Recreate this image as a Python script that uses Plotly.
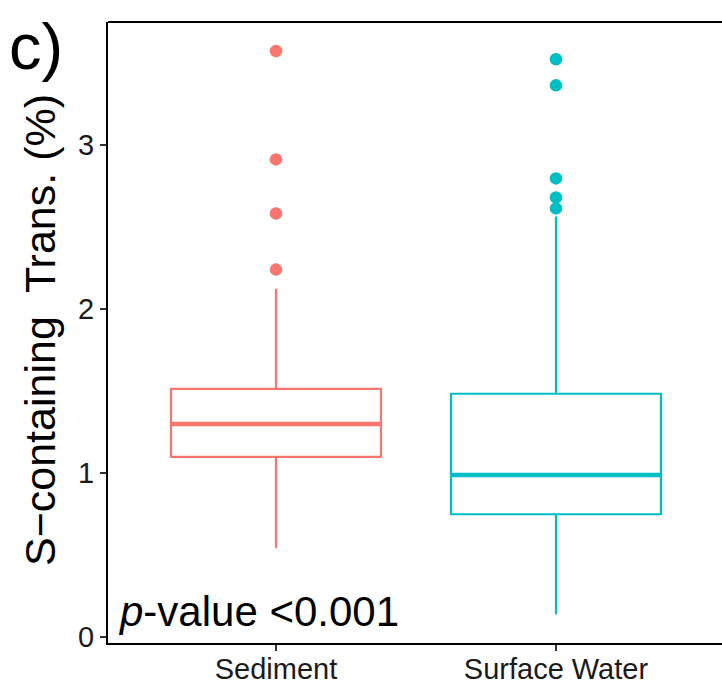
import plotly.graph_objects as go

categories = ["Sediment", "Surface Water"]
positions = [1, 2]
colors = ["#F8766D", "#00BFC4"]
q1 = [1.10, 0.75]
median = [1.30, 0.99]
q3 = [1.515, 1.485]
lower_whisker = [0.545, 0.14]
upper_whisker = [2.126, 2.566]
outliers = [
    [3.575, 2.914, 2.584, 2.242],
    [3.525, 3.366, 2.798, 2.682, 2.615],
]
y_ticks = [0, 1, 2, 3]
box_width = 0.75

fig = go.Figure()
for i in range(len(categories)):
    fig.add_trace(go.Box(
        x=[positions[i]], q1=[q1[i]], median=[median[i]], q3=[q3[i]],
        lowerfence=[lower_whisker[i]], upperfence=[upper_whisker[i]],
        width=box_width, whiskerwidth=0, boxpoints=False,
        line=dict(color=colors[i], width=2.2), fillcolor="rgba(255,255,255,0)",
        showlegend=False, name=categories[i],
    ))
    fig.add_trace(go.Scatter(
        x=[positions[i] - box_width / 2, positions[i] + box_width / 2],
        y=[median[i], median[i]], mode="lines",
        line=dict(color=colors[i], width=4.5), showlegend=False, hoverinfo="skip",
    ))
    fig.add_trace(go.Scatter(
        x=[positions[i]] * len(outliers[i]), y=outliers[i], mode="markers",
        marker=dict(color=colors[i], size=12.5), showlegend=False,
    ))

font = "Liberation Sans, Arial, sans-serif"
fig.update_layout(
    width=722, height=688,
    margin=dict(l=108, r=0, t=22, b=45, autoexpand=False),
    plot_bgcolor="white", paper_bgcolor="white",
    font=dict(family=font, color="black"),
    xaxis=dict(
        range=[0.4, 2.593], tickmode="array", tickvals=positions, ticktext=categories,
        showline=True, linecolor="black", linewidth=2.2, ticks="outside",
        ticklen=6, tickwidth=2, tickcolor="#333", showgrid=False, zeroline=False,
        automargin=False, ticklabelstandoff=-7,
        tickfont=dict(size=29, color="#1a1a1a", family=font),
    ),
    yaxis=dict(
        range=[-0.035, 3.752], tickmode="array", tickvals=y_ticks,
        showline=True, linecolor="black", linewidth=2.2, ticks="outside",
        ticklen=6, tickwidth=2, tickcolor="#333", showgrid=False, zeroline=False,
        automargin=False,
        tickfont=dict(size=29, color="#1a1a1a", family=font),
    ),
    shapes=[dict(type="line", xref="paper", yref="paper", x0=0, x1=1, y0=1, y1=1,
                 line=dict(color="black", width=2.2))],
    annotations=[
        dict(text="S\u2212containing  Trans. (%)", textangle=-90, xref="paper", yref="paper",
             x=0, y=0.504, xanchor="center", yanchor="middle", xshift=-68,
             showarrow=False, font=dict(size=43, color="black", family=font)),
        dict(text="c)", xref="paper", yref="paper", x=0, y=1, xanchor="left", yanchor="middle",
             xshift=-101, yshift=-24, showarrow=False, font=dict(size=65, color="black", family=font)),
        dict(text="<i>p</i>-value <0.001", xref="paper", yref="paper", x=0, y=0,
             xanchor="left", yanchor="bottom", xshift=8, yshift=6,
             showarrow=False, font=dict(size=42, color="black", family=font)),
    ],
)

fig.write_html("out.html", config={"displayModeBar": False},
               post_script="document.body.style.margin='0';")
